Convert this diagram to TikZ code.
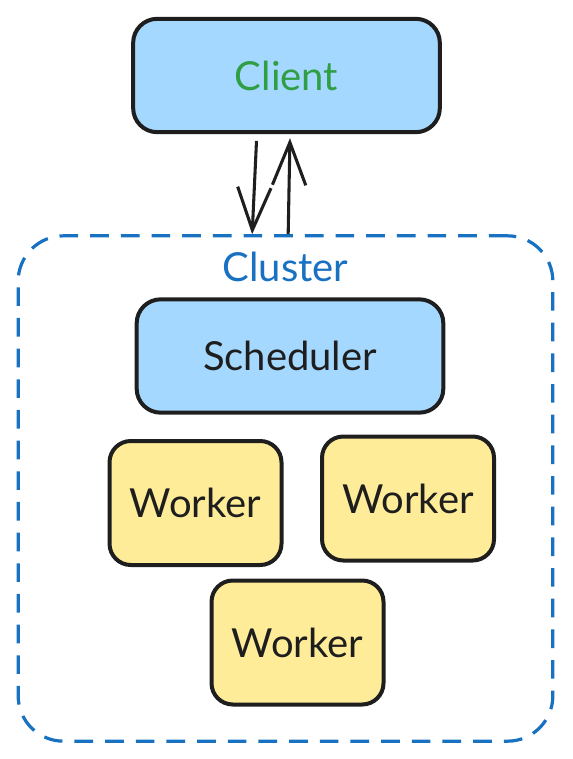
\documentclass[tikz,border=0pt]{standalone}
\usepackage{fontspec}
\setmainfont{Lato}
\usetikzlibrary{arrows.meta,positioning}
\definecolor{boxline}{HTML}{1E1E1E}
\definecolor{bluefill}{HTML}{A5D8FF}
\definecolor{yellowfill}{HTML}{FFEC99}
\definecolor{clusterblue}{HTML}{1971C2}
\definecolor{clientgreen}{HTML}{2F9E44}
\begin{document}
\begin{tikzpicture}[x=0.75pt,y=-0.75pt,>=Stealth, every node/.style={font=\fontsize{30}{34}\selectfont}]
    \tikzset{service/.style={draw=boxline,line width=3pt,rounded corners=18pt,fill=bluefill,minimum width=230pt,minimum height=85pt}}
    \tikzset{worker/.style ={draw=boxline,line width=3pt,rounded corners=16pt,fill=yellowfill,minimum width=129pt,minimum height=93pt}}
    \tikzset{group/.style ={draw=clusterblue,line width=2.4pt,dash pattern=on 14pt off 9pt,rounded corners=34pt,minimum width=401pt,minimum height=379pt}}
    \tikzset{link/.style ={line width=2.3pt,boxline,-{Straight Barb[length=32pt,width=25pt,line width=2.3pt]}}}
    \useasboundingbox (0,0) rectangle (572,759);

    % Cluster frame
    \node[group] (cluster) at (285.5,488.5) {};
    \node[text=clusterblue,below=9.5pt of cluster.north] (clustername) {Cluster};

    % Client and Scheduler
    \node[service,text=clientgreen] (client) at (286.5,75.5) {Client};
    \node[service,text=boxline] (scheduler) at (290,356) {Scheduler};

    % Workers
    \node[worker,text=boxline] (workerA) at (195.5,503) {Worker};
    \node[worker,text=boxline] (workerB) at (408,498.5) {Worker};
    \node[worker,text=boxline] (workerC) at (297.5,642.5) {Worker};

    % Requests down, results up
    \draw[link] ([xshift=-22.5pt,yshift=-5pt]client.south) -- ([xshift=-25pt]cluster.north);
    \draw[link] ([xshift=2pt]cluster.north) -- ([xshift=2.6pt,yshift=-3pt]client.south);
\end{tikzpicture}
\end{document}
